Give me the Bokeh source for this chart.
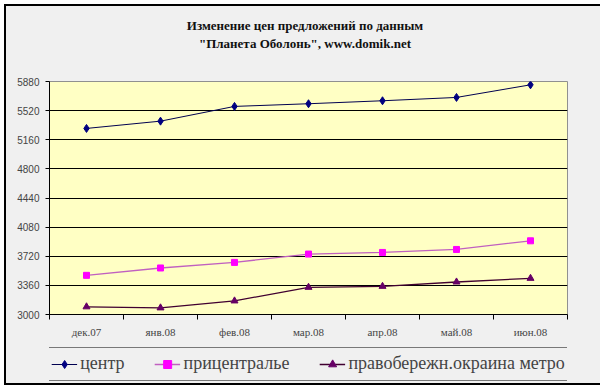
from bokeh.plotting import figure
from bokeh.models import FixedTicker, Legend, LegendItem, Div
from bokeh.layouts import column
from bokeh.embed import file_html
from bokeh.resources import INLINE

months = ["дек.07", "янв.08", "фев.08", "мар.08", "апр.08", "май.08", "июн.08"]
center = [5300, 5390, 5572, 5605, 5642, 5683, 5839]
pricentr = [3484, 3575, 3644, 3747, 3767, 3804, 3911]
metro = [3095, 3082, 3168, 3336, 3348, 3402, 3447]
series_names = ["центр", "прицентралье", "правобережн.окраина метро"]
y_ticks = [3000, 3360, 3720, 4080, 4440, 4800, 5160, 5520, 5880]
title_lines = ["Изменение цен предложений по данным", "\"Планета Оболонь\", www.domik.net"]

xs = [i + 0.5 for i in range(len(months))]
bounds = [float(i) for i in range(len(months) + 1)]

BG = "#f0f0f0"
styles_series = [
    dict(marker="diamond", size=8, fill="#000080", line="#000050", lw=1.0),
    dict(marker="square", size=6, fill="#ff00ff", line="#c060c0", lw=1.3),
    dict(marker="triangle", size=7, fill="#660066", line="#400030", lw=1.3),
]
data = [center, pricentr, metro]

title = Div(text="<br>".join(title_lines), width=588, height=45,
            styles={"font-family": "Liberation Serif", "font-size": "13px", "font-weight": "bold",
                    "text-align": "center", "line-height": "18px", "padding-top": "6px",
                    "width": "588px", "color": "#111111"})

p = figure(width=588, height=283, output_backend="svg", toolbar_location=None,
           x_range=(0, len(months)), y_range=(3000, 5880),
           min_border_left=43, min_border_right=27, min_border_top=20, min_border_bottom=30)
p.background_fill_color = "#ffffc4"
p.border_fill_color = BG
p.outline_line_color = "#909090"

p.xaxis.ticker = FixedTicker(ticks=xs, minor_ticks=bounds)
p.xaxis.major_label_overrides = {x: m for x, m in zip(xs, months)}
p.xaxis.major_tick_out = 0
p.xaxis.major_tick_in = 0
p.xaxis.minor_tick_out = 5
p.xaxis.minor_tick_in = 0
p.xaxis.major_label_text_font = "Liberation Serif"
p.xaxis.major_label_text_font_size = "11px"
p.xaxis.major_label_standoff = 6
p.xaxis.axis_line_color = "black"
p.xaxis.minor_tick_line_color = "black"

p.yaxis.ticker = FixedTicker(ticks=y_ticks)
p.yaxis.minor_tick_line_color = None
p.yaxis.major_tick_out = 4
p.yaxis.major_tick_in = 0
p.yaxis.major_label_text_font = "Liberation Sans"
p.yaxis.major_label_text_font_size = "10px"
p.yaxis.major_label_standoff = 6
p.yaxis.axis_line_color = "black"
p.yaxis.major_tick_line_color = "black"

p.xgrid.grid_line_color = None
p.ygrid.grid_line_color = "black"
p.ygrid.grid_line_alpha = 1.0

for ys, st in zip(data, styles_series):
    p.line(xs, ys, line_color=st["line"], line_width=st["lw"])
    p.scatter(xs, ys, marker=st["marker"], size=st["size"],
              fill_color=st["fill"], line_color=st["fill"])

# legend strip: same series, drawn outside its visible range, only the legend shows
q = figure(width=588, height=39, output_backend="svg", toolbar_location=None,
           x_range=(0, len(months)), y_range=(-2, -1),
           x_axis_location=None, y_axis_location=None,
           min_border_left=0, min_border_right=0, min_border_top=0, min_border_bottom=0)
q.grid.visible = False
q.outline_line_color = None
q.background_fill_color = BG
q.border_fill_color = BG
items = []
for name, ys, st in zip(series_names, data, styles_series):
    rl = q.line(xs, ys, line_color=st["line"], line_width=st["lw"])
    rm = q.scatter(xs, ys, marker=st["marker"], size=st["size"] - 2,
                   fill_color=st["fill"], line_color=st["fill"])
    items.append(LegendItem(label=name, renderers=[rl, rm]))

legend = Legend(items=items, orientation="horizontal", location="center")
legend.label_text_font = "Liberation Serif"
legend.label_text_font_size = "18px"
legend.label_standoff = 3
legend.label_height = 22
legend.border_line_color = "black"
legend.border_line_width = 1.5
legend.background_fill_color = BG
legend.background_fill_alpha = 1.0
legend.glyph_width = 26
legend.spacing = 30
legend.padding = 5
legend.margin = 0
q.add_layout(legend)

layout = column(title, p, q, spacing=0)
layout.styles = {"border": "2px solid black", "margin": "4px 0 0 4px", "background": BG}

open("out.html", "w").write(file_html(layout, INLINE))
